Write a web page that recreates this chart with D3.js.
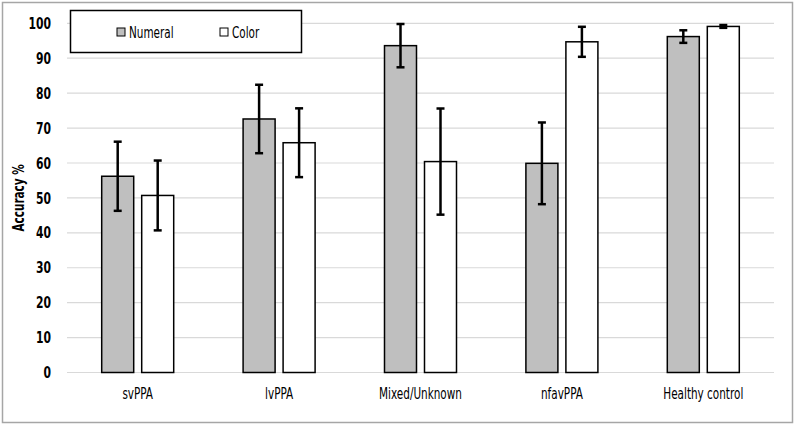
<!DOCTYPE html>
<html>
<head>
<meta charset="utf-8">
<script src="https://cdn.jsdelivr.net/npm/d3@7"></script>
<style>
  body { margin: 0; background: #fff; }
  text { font-family: "DejaVu Sans Condensed", "DejaVu Sans", sans-serif; font-stretch: condensed; }
</style>
</head>
<body>
<div id="chart"></div>
<script>
var categories = ["svPPA", "lvPPA", "Mixed/Unknown", "nfavPPA", "Healthy control"]
var seriesNames = ["Numeral", "Color"]
var numeralValues = [56.2, 72.6, 93.6, 59.9, 96.2]
var numeralErrors = [9.9, 9.8, 6.2, 11.7, 1.8]
var colorValues = [50.7, 65.8, 60.4, 94.7, 99.1]
var colorErrors = [10.0, 9.85, 15.2, 4.3, 0.4]
var yTicks = [0, 10, 20, 30, 40, 50, 60, 70, 80, 90, 100]

var width = 795, height = 425
var margin = {top: 23.3, right: 21, bottom: 52.5, left: 67}
var chartWidth = width - margin.left - margin.right
var chartHeight = height - margin.top - margin.bottom
var narrow = 0.75  // squeeze text horizontally, source font is very condensed

var svg = d3.select("#chart").append("svg")
    .attr("width", width).attr("height", height)

// outer frame
svg.append("rect")
    .attr("x", 2.5).attr("y", 2.5)
    .attr("width", 790).attr("height", 420)
    .attr("fill", "#fff").attr("stroke", "#a6a6a6").attr("stroke-width", 1.5)

var chartLayer = svg.append("g")
    .attr("transform", "translate(" + [margin.left, margin.top] + ")")

var xScale = d3.scaleBand().domain(categories).range([0, chartWidth])
var yScale = d3.scaleLinear().domain([0, 100]).range([chartHeight, 0])

// grid
chartLayer.append("g").selectAll("line").data(yTicks).enter().append("line")
    .attr("x1", 0).attr("x2", chartWidth)
    .attr("y1", function (d) { return yScale(d) })
    .attr("y2", function (d) { return yScale(d) })
    .attr("stroke", "#d9d9d9").attr("stroke-width", 1.2)

// y axis labels
var yAxis = d3.axisLeft(yScale).tickValues(yTicks).tickSize(0).tickPadding(0)
var yg = chartLayer.append("g").call(yAxis)
yg.select(".domain").remove()
yg.selectAll("text")
    .attr("x", 0)
    .attr("transform", "translate(-16,0) scale(" + narrow + ",1)")
    .attr("font-size", 16).attr("font-weight", "bold").attr("fill", "#000")
    .style("font-family", null)

// x axis labels
var xAxis = d3.axisBottom(xScale).tickSize(0).tickPadding(16)
var xg = chartLayer.append("g")
    .attr("transform", "translate(0," + chartHeight + ")")
    .call(xAxis)
xg.select(".domain").remove()
xg.selectAll("text")
    .attr("transform", "scale(" + narrow + ",1)")
    .attr("font-size", 15.5).attr("fill", "#000")
    .style("font-family", null)

var barW = 32, gap = 8
var series = [
    {name: seriesNames[0], values: numeralValues, errors: numeralErrors, fill: "#bfbfbf", offset: -(gap / 2 + barW)},
    {name: seriesNames[1], values: colorValues, errors: colorErrors, fill: "#ffffff", offset: gap / 2}
]

series.forEach(function (s) {
    var data = categories.map(function (c, i) {
        return {cat: c, v: s.values[i], e: s.errors[i]}
    })
    var g = chartLayer.append("g")
    g.selectAll("rect").data(data).enter().append("rect")
        .attr("x", function (d) { return xScale(d.cat) + xScale.bandwidth() / 2 + s.offset })
        .attr("y", function (d) { return yScale(d.v) })
        .attr("width", barW)
        .attr("height", function (d) { return chartHeight - yScale(d.v) })
        .attr("fill", s.fill).attr("stroke", "#000").attr("stroke-width", 1.5)

    var eb = g.selectAll(".err").data(data).enter().append("g")
        .attr("transform", function (d) {
            return "translate(" + (xScale(d.cat) + xScale.bandwidth() / 2 + s.offset + barW / 2) + ",0)"
        })
    eb.append("line")
        .attr("y1", function (d) { return yScale(d.v + d.e) })
        .attr("y2", function (d) { return yScale(d.v - d.e) })
        .attr("stroke", "#000").attr("stroke-width", 2.5)
    eb.append("line")
        .attr("x1", -4).attr("x2", 4)
        .attr("y1", function (d) { return yScale(d.v + d.e) })
        .attr("y2", function (d) { return yScale(d.v + d.e) })
        .attr("stroke", "#000").attr("stroke-width", 2.5)
    eb.append("line")
        .attr("x1", -4).attr("x2", 4)
        .attr("y1", function (d) { return yScale(d.v - d.e) })
        .attr("y2", function (d) { return yScale(d.v - d.e) })
        .attr("stroke", "#000").attr("stroke-width", 2.5)
})

// y axis title
svg.append("text")
    .attr("transform", "translate(24," + (margin.top + chartHeight / 2) + ") rotate(-90) scale(" + narrow + ",1)")
    .attr("text-anchor", "middle")
    .attr("font-size", 15.5).attr("font-weight", "bold")
    .text("Accuracy %")

// legend
var legend = svg.append("g")
legend.append("rect")
    .attr("x", 70.5).attr("y", 10.5).attr("width", 231).attr("height", 42)
    .attr("fill", "#fff").attr("stroke", "#000").attr("stroke-width", 1.5)
var legendX = [117, 220]
series.forEach(function (s, i) {
    legend.append("rect")
        .attr("x", legendX[i]).attr("y", 28).attr("width", 8).attr("height", 8)
        .attr("fill", s.fill).attr("stroke", "#000").attr("stroke-width", 1)
    legend.append("text")
        .attr("transform", "translate(" + (legendX[i] + 12) + ",37.5) scale(" + narrow + ",1)")
        .attr("font-size", 15.5)
        .text(s.name)
})
</script>
</body>
</html>
